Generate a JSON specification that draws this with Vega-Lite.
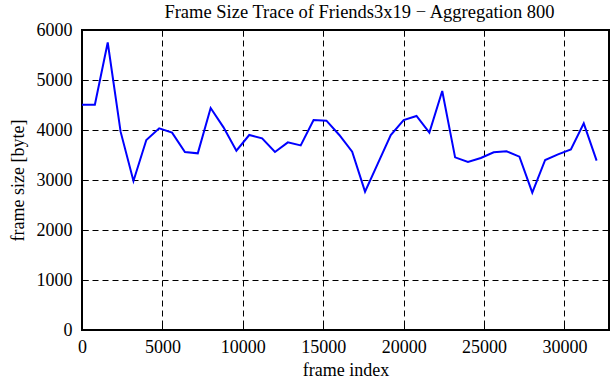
{
  "$schema": "https://vega.github.io/schema/vega-lite/v6.json",
  "autosize": "none",
  "width": 527,
  "height": 300,
  "padding": {"left": 82, "top": 30, "right": 2, "bottom": 50},
  "title": {"text": "Frame Size Trace of Friends3x19 − Aggregation 800", "font": "Liberation Serif", "fontSize": 18.5, "fontWeight": "normal", "color": "black", "anchor": "middle", "dx": 14, "offset": 0},
  "config": {
    "view": {"stroke": "black", "strokeWidth": 2},
    "axis": {
      "labelFont": "Liberation Serif", "titleFont": "Liberation Serif",
      "labelFontSize": 18, "titleFontSize": 18, "titleFontWeight": "normal",
      "labelColor": "black", "titleColor": "black",
      "domain": false,
      "tickColor": "black", "tickSize": -6, "tickWidth": 1,
      "grid": true, "gridColor": "black", "gridOpacity": 1, "gridDash": [6, 4], "gridWidth": 1
    }
  },
  "data": {"values": [
    {"frame": 0, "size": 4507},
    {"frame": 800, "size": 4507},
    {"frame": 1600, "size": 5750},
    {"frame": 2400, "size": 3967},
    {"frame": 3200, "size": 2980},
    {"frame": 4000, "size": 3800},
    {"frame": 4800, "size": 4033},
    {"frame": 5600, "size": 3947},
    {"frame": 6400, "size": 3560},
    {"frame": 7200, "size": 3533},
    {"frame": 8000, "size": 4440},
    {"frame": 8800, "size": 4053},
    {"frame": 9600, "size": 3587},
    {"frame": 10400, "size": 3900},
    {"frame": 11200, "size": 3833},
    {"frame": 12000, "size": 3560},
    {"frame": 12800, "size": 3753},
    {"frame": 13600, "size": 3693},
    {"frame": 14400, "size": 4200},
    {"frame": 15200, "size": 4187},
    {"frame": 16000, "size": 3900},
    {"frame": 16800, "size": 3567},
    {"frame": 17600, "size": 2767},
    {"frame": 18400, "size": 3333},
    {"frame": 19200, "size": 3900},
    {"frame": 20000, "size": 4200},
    {"frame": 20800, "size": 4280},
    {"frame": 21600, "size": 3947},
    {"frame": 22400, "size": 4780},
    {"frame": 23200, "size": 3453},
    {"frame": 24000, "size": 3360},
    {"frame": 24800, "size": 3440},
    {"frame": 25600, "size": 3553},
    {"frame": 26400, "size": 3573},
    {"frame": 27200, "size": 3467},
    {"frame": 28000, "size": 2747},
    {"frame": 28800, "size": 3400},
    {"frame": 29600, "size": 3513},
    {"frame": 30400, "size": 3613},
    {"frame": 31200, "size": 4133},
    {"frame": 32000, "size": 3387}
  ]},
  "layer": [
    {
      "mark": {"type": "line", "color": "#0000ff", "strokeWidth": 2},
      "encoding": {
        "x": {"field": "frame", "type": "quantitative", "scale": {"domain": [0, 32770], "nice": false, "zero": false},
              "axis": {"title": "frame index", "values": [0, 5000, 10000, 15000, 20000, 25000, 30000], "format": "d", "labelPadding": 14, "titlePadding": 5, "labelFlush": false}},
        "y": {"field": "size", "type": "quantitative", "scale": {"domain": [0, 6000], "nice": false},
              "axis": {"title": "frame size [byte]", "values": [0, 1000, 2000, 3000, 4000, 5000, 6000], "format": "d", "labelPadding": 16, "titlePadding": 9, "labelFlush": false}}
      }
    },
    {
      "mark": {"type": "line", "opacity": 0},
      "encoding": {
        "x": {"field": "frame", "type": "quantitative", "scale": {"domain": [0, 32770], "nice": false, "zero": false},
              "axis": {"orient": "top", "title": null, "labels": false, "grid": false, "values": [0, 5000, 10000, 15000, 20000, 25000, 30000]}},
        "y": {"field": "size", "type": "quantitative", "scale": {"domain": [0, 6000], "nice": false},
              "axis": {"orient": "right", "title": null, "labels": false, "grid": false, "values": [0, 1000, 2000, 3000, 4000, 5000, 6000]}}
      }
    }
  ],
  "resolve": {"scale": {"x": "independent", "y": "independent"}}
}
